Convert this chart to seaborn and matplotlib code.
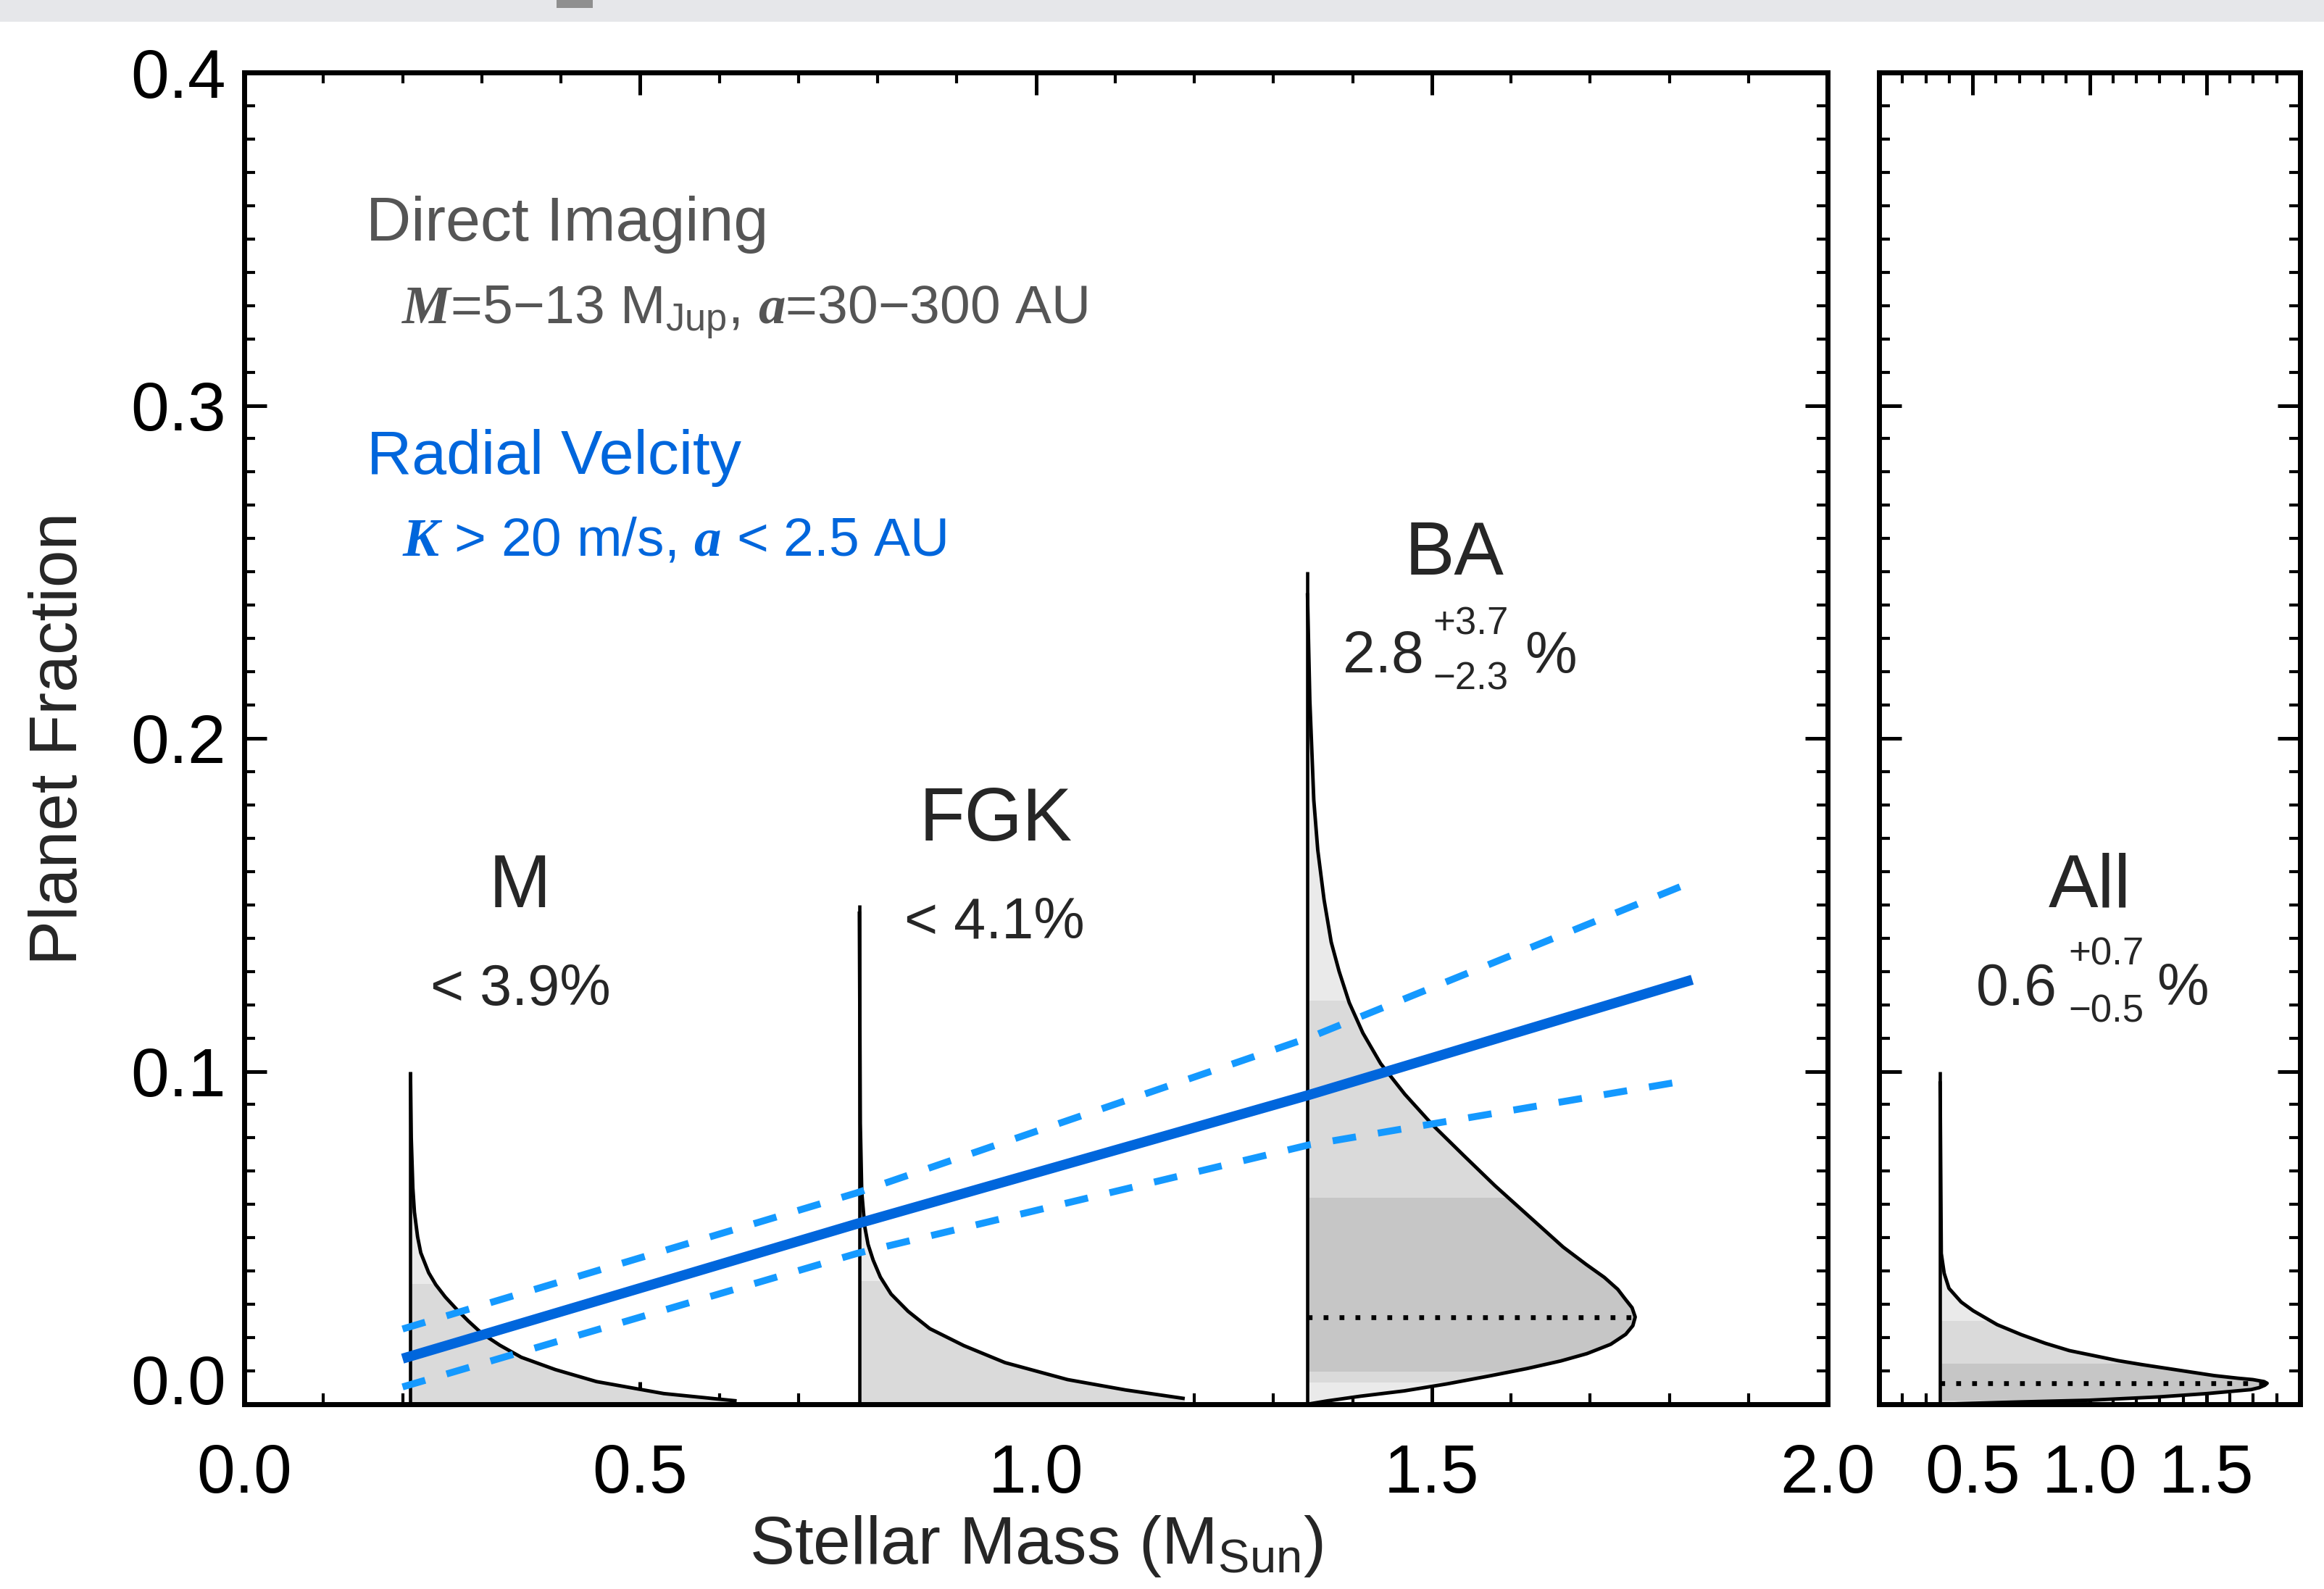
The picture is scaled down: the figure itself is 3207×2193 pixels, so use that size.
import numpy as np
import pandas as pd
import matplotlib
matplotlib.use("Agg")
import matplotlib.pyplot as plt
import seaborn as sns
from matplotlib.patches import Polygon, Rectangle
from matplotlib.ticker import MultipleLocator, FormatStrFormatter

# ------------------------------------------------------------------ data
# posterior curves of planet fraction, drawn sideways at a stellar mass
M_base, M_top = 0.210, 0.10
M_frac = [0.0997, 0.080, 0.0650, 0.0577, 0.0503, 0.0455, 0.0431, 0.0395, 0.0359, 0.0322,
          0.0286, 0.0250, 0.0213, 0.0177, 0.0141, 0.0104, 0.0068, 0.0032, 0.0010]
M_width = [0.0, 0.001, 0.003, 0.005, 0.009, 0.013, 0.017, 0.023, 0.032, 0.044,
           0.058, 0.073, 0.090, 0.113, 0.140, 0.183, 0.235, 0.320, 0.412]
M_band_edges = [0.0, 0.0362, 0.10]
M_band_shades = ["light", "lightest"]

FGK_base, FGK_top = 0.777, 0.15
FGK_frac = [0.148, 0.0844, 0.0638, 0.0535, 0.0480, 0.0433, 0.0382, 0.0331, 0.0279, 0.0227,
            0.0176, 0.0125, 0.0074, 0.0043, 0.0017]
FGK_width = [0.0, 0.0012, 0.003, 0.0067, 0.011, 0.0174, 0.0265, 0.040, 0.0616, 0.089,
             0.132, 0.184, 0.263, 0.336, 0.411]
FGK_band_edges = [0.0, 0.0371, 0.15]
FGK_band_shades = ["light", "lightest"]

BA_base, BA_top = 1.343, 0.25
BA_frac = [0.2436, 0.2114, 0.1815, 0.1665, 0.1515, 0.1388, 0.1300, 0.1206, 0.1115, 0.1023,
           0.0931, 0.0839, 0.0748, 0.0656, 0.0564, 0.0472, 0.0420, 0.0381, 0.0345, 0.0317,
           0.0290, 0.0262, 0.0236, 0.0210, 0.0180, 0.0152, 0.0130, 0.0107, 0.0085, 0.0061,
           0.0040, 0.0024, 0.0010, 0.0]
BA_width = [0.0, 0.003, 0.008, 0.013, 0.021, 0.030, 0.040, 0.0528, 0.070, 0.0925,
            0.123, 0.158, 0.197, 0.237, 0.280, 0.323, 0.352, 0.375, 0.392, 0.401,
            0.410, 0.414, 0.411, 0.402, 0.383, 0.353, 0.320, 0.277, 0.230, 0.176,
            0.122, 0.0665, 0.025, 0.0]
BA_band_edges = [0.0, 0.0065, 0.0097, 0.0621, 0.1213, 0.25]
BA_band_shades = ["lightest", "light", "dark", "light", "lightest"]

All_base, All_top = 0.361, 0.10
All_frac = [0.097, 0.0453, 0.0393, 0.0348, 0.0307, 0.0281, 0.0239, 0.0209, 0.0183,
            0.0161, 0.0146, 0.0131, 0.0119, 0.0108, 0.0097, 0.0086, 0.0078, 0.0074,
            0.0068, 0.0063, 0.0057, 0.0050, 0.0044, 0.0032, 0.0022, 0.0012, 0.0007, 0.0]
All_width = [0.0, 0.005, 0.0175, 0.038, 0.090, 0.141, 0.244, 0.347, 0.450,
             0.553, 0.657, 0.760, 0.863, 0.966, 1.069, 1.172, 1.275, 1.337,
             1.385, 1.398, 1.388, 1.365, 1.330, 1.141, 0.935, 0.636, 0.347, 0.0]
All_band_edges = [0.0, 0.0011, 0.0122, 0.0250, 0.10]
All_band_shades = ["light", "dark", "light", "lightest"]

# radial-velocity relation (fit and its band)
rv_mass = [0.200, 0.774, 1.345, 1.829]
rv_fit = [0.0137, 0.0542, 0.0929, 0.1275]
rv_upper = [0.0226, 0.0635, 0.1101, 0.1569]
rv_lower = [0.0052, 0.0453, 0.0779, 0.0975]

main_xticks = [0.0, 0.5, 1.0, 1.5, 2.0]
side_xticks = [0.5, 1.0, 1.5]
yticks = [0.0, 0.1, 0.2, 0.3, 0.4]

# ------------------------------------------------------------------ style
sns.set_style("ticks")
plt.rcParams["font.family"] = ["Liberation Sans", "DejaVu Sans"]
plt.rcParams["mathtext.fontset"] = "custom"
plt.rcParams["mathtext.rm"] = "Liberation Sans"
plt.rcParams["mathtext.it"] = "Liberation Serif:italic:bold"
plt.rcParams["mathtext.bf"] = "Liberation Sans:bold"

SHADE = {"lightest": "#eaeaea", "light": "#dadada", "dark": "#c6c6c6"}
BLUE = "#0066dc"
BLUE_D = "#1499ff"
GREY_T = "#555555"

W, H = 3207, 2193
fig = plt.figure(figsize=(W / 100, H / 100), dpi=100)
fig.patch.set_facecolor("white")
ax = fig.add_axes([337 / W, (H - 1938) / H, (2522 - 337) / W, (1938 - 100) / H])
ax2 = fig.add_axes([2593 / W, (H - 1938) / H, (3174 - 2593) / W, (1938 - 100) / H])

# screenshot strip at top
fig.patches.append(Rectangle((0, 1 - 30 / H), 1, 30 / H, transform=fig.transFigure,
                             facecolor="#e6e7ea", edgecolor="none", zorder=0))
fig.patches.append(Rectangle((768 / W, 1 - 11 / H), 50 / W, 11 / H, transform=fig.transFigure,
                             facecolor="#8f8f8f", edgecolor="none", zorder=1))


def styled_line(axis, lw, dashes=None, z=2):
    ln = axis.lines[-1]
    ln.set_linewidth(lw)
    ln.set_zorder(z)
    if dashes is not None:
        ln.set_dashes(dashes)
        ln.set_dash_capstyle("butt")
    else:
        ln.set_linestyle("-")
        ln.set_solid_capstyle("butt")
    return ln


def draw_pdf(axis, base, top, frac, width, edges, shades, dotted=False):
    frac = np.asarray(frac, float)
    width = np.asarray(width, float)
    xs = base + width
    verts = [(base, 0.0), (base, frac[0])] + list(zip(xs, frac)) + [(xs[-1], 0.0)]
    poly = Polygon(verts, closed=True, fill=False, lw=0, transform=axis.transData)
    axis.add_patch(poly)
    xmax = base + width.max() + 0.05
    for lo, hi, sh in zip(edges[:-1], edges[1:], shades):
        coll = axis.fill_between([base, xmax], [lo, lo], [hi, hi],
                                 color=SHADE[sh], lw=0, zorder=1)
        coll.set_clip_path(poly)
    df = pd.DataFrame({"x": xs, "y": frac})
    sns.lineplot(data=df, x="x", y="y", sort=False, estimator=None, ax=axis, color="black")
    ln = styled_line(axis, 3.5)
    ln.set_solid_joinstyle("round")
    sns.lineplot(x=[base, base], y=[0.0, top], sort=False, estimator=None, ax=axis,
                 color="black")
    styled_line(axis, 3.3)
    if dotted:
        i = int(np.argmax(width))
        axis.plot([base, xs[i]], [frac[i], frac[i]], color="black", lw=4.8,
                  ls=(0, (1.0, 2.3)), dash_capstyle="butt", zorder=2)


draw_pdf(ax, M_base, M_top, M_frac, M_width, M_band_edges, M_band_shades)
draw_pdf(ax, FGK_base, FGK_top, FGK_frac, FGK_width, FGK_band_edges, FGK_band_shades)
draw_pdf(ax, BA_base, BA_top, BA_frac, BA_width, BA_band_edges, BA_band_shades, dotted=True)
draw_pdf(ax2, All_base, All_top, All_frac, All_width, All_band_edges, All_band_shades, dotted=True)

# RV relation lines
rv = pd.DataFrame({"mass": rv_mass, "fit": rv_fit, "up": rv_upper, "lo": rv_lower})
for col in ["up", "lo"]:
    sns.lineplot(data=rv, x="mass", y=col, sort=False, estimator=None, ax=ax, color=BLUE_D)
    styled_line(ax, 6.9, dashes=(3.4, 3.2), z=4)
sns.lineplot(data=rv, x="mass", y="fit", sort=False, estimator=None, ax=ax, color=BLUE)
styled_line(ax, 10.0, z=5)

# ------------------------------------------------------------------ axes
for a in (ax, ax2):
    a.set_ylim(0, 0.4)
    a.set_yticks(yticks)
    a.yaxis.set_minor_locator(MultipleLocator(0.01))
    a.xaxis.set_minor_locator(MultipleLocator(0.1))
    a.tick_params(which="both", direction="in", top=True, right=True,
                  labelsize=68, colors="black")
    a.tick_params(which="major", length=22, width=3.6)
    a.tick_params(which="minor", length=11, width=3.0)
    a.tick_params(axis="x", which="major", pad=38)
    a.tick_params(axis="y", which="major", pad=18)
    for s in a.spines.values():
        s.set_linewidth(5)
        s.set_color("black")
        s.set_visible(True)
    a.set_xlabel("")
    a.set_ylabel("")
    a.set_facecolor("white")

ax.set_xlim(0, 2)
ax.set_xticks(main_xticks)
ax.xaxis.set_major_formatter(FormatStrFormatter("%.1f"))
ax.yaxis.set_major_formatter(FormatStrFormatter("%.1f"))
ax2.set_xlim(0.1, 1.9)
ax2.set_xticks(side_xticks)
ax2.xaxis.set_major_formatter(FormatStrFormatter("%.1f"))
ax2.tick_params(axis="y", labelleft=False)

ax.set_ylabel("Planet Fraction", fontsize=67)
ax.yaxis.set_label_coords(-0.097, 0.5)
ax.set_xlabel(r"Stellar Mass (M$_{\mathrm{Sun}}$)", fontsize=67)
ax.xaxis.set_label_coords(0.5, -0.082)

fig.canvas.draw()
ax.yaxis.get_major_ticks()[0].label1.set_verticalalignment("baseline")

# ------------------------------------------------------------------ text
ax.text(0.1535, 0.3496, "Direct Imaging", fontsize=62, color=GREY_T, ha="left", va="baseline")
ax.text(0.1985, 0.3245, r"$M$=5−13 M$_{\mathrm{Jup}}$, $a$=30−300 AU", fontsize=54,
        color=GREY_T, ha="left", va="baseline")
ax.text(0.1547, 0.2795, "Radial Velcity", fontsize=62, color=BLUE, ha="left", va="baseline")
ax.text(0.1995, 0.2550, r"$K$ > 20 m/s, $a$ < 2.5 AU", fontsize=54, color=BLUE,
        ha="left", va="baseline")

ax.text(0.348, 0.1494, "M", fontsize=74, ha="center", va="baseline")
ax.text(0.349, 0.1200, "< 3.9%", fontsize=57, ha="center", va="baseline")
ax.text(0.949, 0.1694, "FGK", fontsize=74, ha="center", va="baseline")
ax.text(0.948, 0.1400, "< 4.1%", fontsize=57, ha="center", va="baseline")
ax.text(1.529, 0.2491, "BA", fontsize=74, ha="center", va="baseline")
ax.text(1.3876, 0.2198, "2.8", fontsize=58, ha="left", va="baseline")
ax.text(1.5018, 0.2313, "+3.7", fontsize=38, ha="left", va="baseline")
ax.text(1.5018, 0.2147, "−2.3", fontsize=38, ha="left", va="baseline")
ax.text(1.6174, 0.2196, "%", fontsize=58, ha="left", va="baseline")

ax2.text(1.0, 0.1493, "All", fontsize=74, ha="center", va="baseline")
ax2.text(0.516, 0.1199, "0.6", fontsize=58, ha="left", va="baseline")
ax2.text(0.909, 0.1321, "+0.7", fontsize=38, ha="left", va="baseline")
ax2.text(0.909, 0.1147, "−0.5", fontsize=38, ha="left", va="baseline")
ax2.text(1.286, 0.1199, "%", fontsize=58, ha="left", va="baseline")

fig.savefig("out.png", dpi=100, facecolor="white")
